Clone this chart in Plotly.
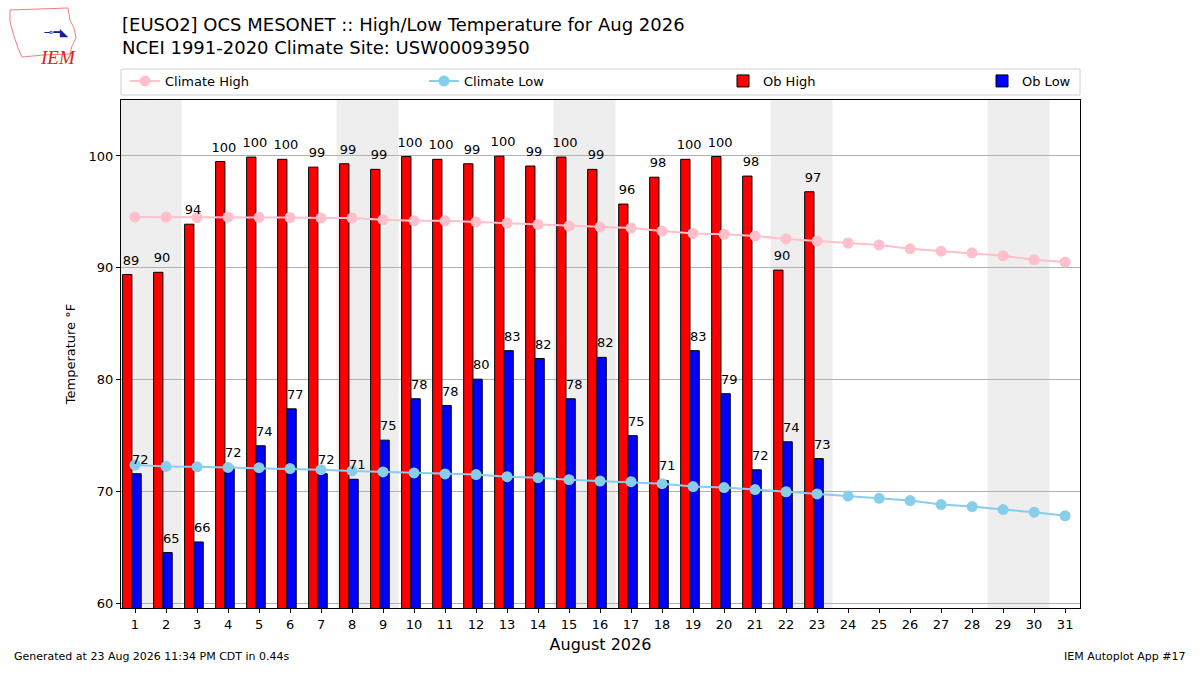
import plotly.graph_objects as go

# August 2026, EUSO2 OCS MESONET
days = list(range(1, 32))
climate_high = [94.54, 94.54, 94.5, 94.54, 94.52, 94.5, 94.45, 94.45, 94.3, 94.2, 94.2, 94.1,
                94.0, 93.88, 93.74, 93.65, 93.56, 93.29, 93.08, 93.0, 92.85, 92.58, 92.4,
                92.22, 92.05, 91.7, 91.49, 91.34, 91.08, 90.72, 90.52]
climate_low = [72.38, 72.25, 72.22, 72.16, 72.14, 72.06, 71.96, 71.85, 71.76, 71.67, 71.58, 71.52,
               71.34, 71.25, 71.07, 70.95, 70.89, 70.71, 70.45, 70.36, 70.18, 69.99, 69.79,
               69.6, 69.4, 69.2, 68.84, 68.66, 68.4, 68.16, 67.84]
ob_days = list(range(1, 24))
ob_high = [89.4, 89.6, 93.9, 99.5, 99.9, 99.7, 99.0, 99.3, 98.8, 99.95, 99.7, 99.3,
           99.98, 99.1, 99.9, 98.8, 95.7, 98.1, 99.7, 99.95, 98.2, 89.8, 96.8]
ob_low = [71.6, 64.55, 65.5, 72.2, 74.1, 77.4, 71.6, 71.1, 74.6, 78.3, 77.7, 80.05,
          82.6, 81.9, 78.3, 82.0, 75.0, 71.0, 82.6, 78.75, 71.95, 74.45, 72.95]
weekend_days = [1, 2, 8, 9, 15, 16, 22, 23, 29, 30]

W, H = 1200, 675
L, R, T, B = 121, 1080, 100, 608
FONT = "DejaVu Sans"

def px_x(p):
    return (p - L) / (R - L)

def px_y(p):
    return (B - p) / (B - T)

fig = go.Figure()

fig.add_trace(go.Scatter(x=days, y=climate_high, mode="lines+markers", name="Climate High",
                         line=dict(color="pink", width=2),
                         marker=dict(color="pink", size=11), legend="legend"))
fig.add_trace(go.Scatter(x=days, y=climate_low, mode="lines+markers", name="Climate Low",
                         line=dict(color="skyblue", width=2),
                         marker=dict(color="skyblue", size=11), legend="legend2"))
fig.add_trace(go.Bar(x=ob_days, y=ob_high, name="Ob High", offset=-0.4, width=0.3,
                     marker=dict(color="red", line=dict(color="black", width=1)),
                     legend="legend3"))
fig.add_trace(go.Bar(x=ob_days, y=ob_low, name="Ob Low", offset=-0.1, width=0.3,
                     marker=dict(color="blue", line=dict(color="black", width=1)),
                     legend="legend4"))

# value labels above the bars
fig.add_trace(go.Scatter(x=[d - 0.13 for d in ob_days], y=[v + 0.6 for v in ob_high],
                         mode="text", text=[f"{v:.0f}" for v in ob_high],
                         textposition="top center", cliponaxis=False,
                         textfont=dict(size=13, color="black", family=FONT), showlegend=False))
fig.add_trace(go.Scatter(x=[d + 0.17 for d in ob_days], y=[v + 0.6 for v in ob_low],
                         mode="text", text=[f"{v:.0f}" for v in ob_low],
                         textposition="top center", cliponaxis=False,
                         textfont=dict(size=13, color="black", family=FONT), showlegend=False))

# weekend shading, consecutive days merged into one band
bands = []
for d in weekend_days:
    if bands and bands[-1][1] == d - 1:
        bands[-1][1] = d
    else:
        bands.append([d, d])
for d0, d1 in bands:
    fig.add_shape(type="rect", xref="x", yref="paper", x0=d0 - 0.5, x1=d1 + 0.5, y0=0, y1=1,
                  fillcolor="#eeeeee", line=dict(width=0), layer="below")

# legend frame
fig.add_shape(type="rect", xref="paper", yref="paper", x0=px_x(121), x1=px_x(1080),
              y0=px_y(95), y1=px_y(69), line=dict(color="#d0d0d0", width=1), layer="above")

# IEM logo (rough)
logo = [(10, 10), (68, 8), (70, 20), (74, 28), (76, 38), (72, 46), (70, 54), (44, 55),
        (22, 57), (18, 48), (14, 36), (10, 22)]
path = "M " + " L ".join(f"{px_x(x):.4f},{px_y(y):.4f}" for x, y in logo) + " Z"
fig.add_shape(type="path", xref="paper", yref="paper", path=path,
              line=dict(color="#f08080", width=1), layer="above")
fig.add_annotation(x=px_x(38), y=px_y(45), xref="paper", yref="paper", text="<i>IEM</i>",
                   showarrow=False, font=dict(family="Liberation Serif", size=19, color="#dd2222"))
fig.add_annotation(x=px_x(42), y=px_y(24), xref="paper", yref="paper", text="⊸━◣",
                   showarrow=False, font=dict(family="DejaVu Sans", size=11, color="#1a1aa0"))

# titles
fig.add_annotation(x=px_x(120), y=px_y(24), xref="paper", yref="paper", xanchor="left",
                   yanchor="middle", showarrow=False,
                   text="[EUSO2] OCS MESONET :: High/Low Temperature for Aug 2026",
                   font=dict(size=18, color="black", family=FONT))
fig.add_annotation(x=px_x(120), y=px_y(48), xref="paper", yref="paper", xanchor="left",
                   yanchor="middle", showarrow=False,
                   text="NCEI 1991-2020 Climate Site: USW00093950",
                   font=dict(size=18, color="black", family=FONT))

# footers
fig.add_annotation(x=px_x(12), y=px_y(665), xref="paper", yref="paper", xanchor="left",
                   text="Generated at 23 Aug 2026 11:34 PM CDT in 0.44s", showarrow=False,
                   font=dict(size=11, color="black", family=FONT))
fig.add_annotation(x=px_x(1188), y=px_y(665), xref="paper", yref="paper", xanchor="right",
                   text="IEM Autoplot App #17", showarrow=False,
                   font=dict(size=11, color="black", family=FONT))

leg = dict(orientation="h", xanchor="left", yanchor="middle", y=px_y(81),
           bgcolor="rgba(0,0,0,0)", borderwidth=0, font=dict(size=13, family=FONT))

fig.update_layout(
    width=W, height=H,
    margin=dict(l=L, r=W - R, t=T, b=H - B),
    paper_bgcolor="white", plot_bgcolor="white",
    font=dict(family=FONT, size=13, color="black"),
    barmode="overlay",
    showlegend=True,
    legend=dict(leg, x=px_x(125)),
    legend2=dict(leg, x=px_x(424)),
    legend3=dict(leg, x=px_x(723)),
    legend4=dict(leg, x=px_x(982)),
    xaxis=dict(range=[0.548, 31.48], tickmode="array", tickvals=days,
               ticks="outside", ticklen=4, tickcolor="black", showgrid=False,
               showline=True, linecolor="black", linewidth=1, mirror=True, zeroline=False,
               title=dict(text="August 2026", font=dict(size=16, family=FONT), standoff=8)),
    yaxis=dict(range=[59.6, 105.0], tickvals=[60, 70, 80, 90, 100],
               ticks="outside", ticklen=4, tickcolor="black",
               showgrid=True, gridcolor="#b0b0b0", gridwidth=1,
               showline=True, linecolor="black", linewidth=1, mirror=True, zeroline=False,
               title=dict(text="Temperature °F", font=dict(size=13, family=FONT), standoff=10)),
)

fig.write_html("out.html", config={"displayModeBar": False},
               post_script="document.body.style.margin='0';")
